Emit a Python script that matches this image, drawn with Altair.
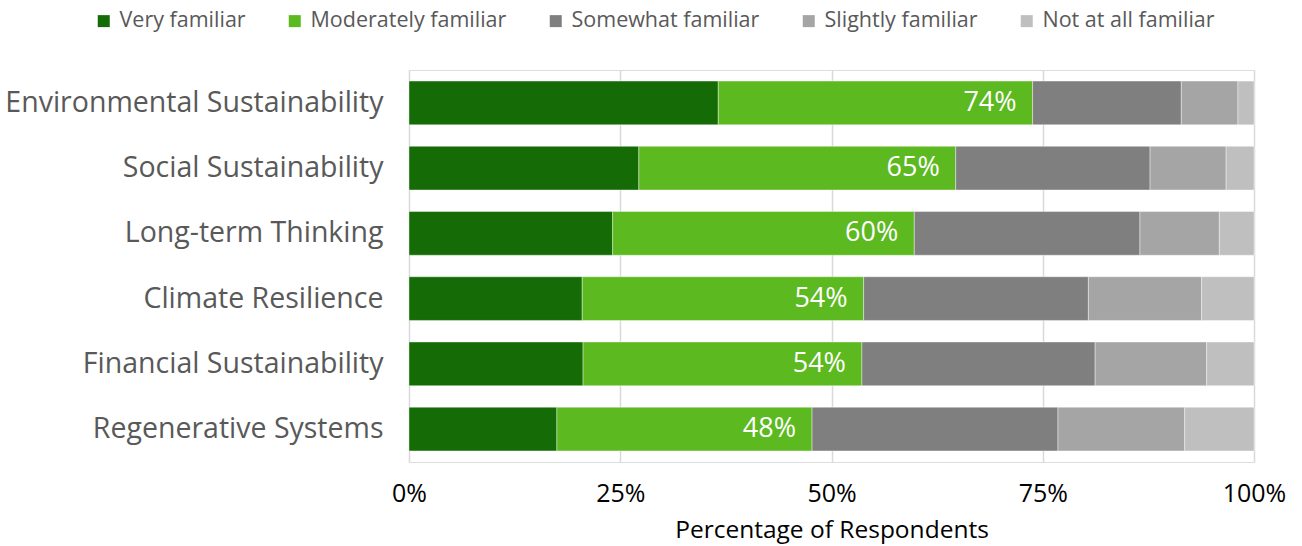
import altair as alt
import pandas as pd

categories = [
    "Environmental Sustainability",
    "Social Sustainability",
    "Long-term Thinking",
    "Climate Resilience",
    "Financial Sustainability",
    "Regenerative Systems",
]
levels = ["Very familiar", "Moderately familiar", "Somewhat familiar",
          "Slightly familiar", "Not at all familiar"]
very = [36.6, 27.2, 24.1, 20.5, 20.6, 17.5]
moderate = [37.2, 37.5, 35.7, 33.3, 33.0, 30.2]
somewhat = [17.6, 23.0, 26.7, 26.6, 27.6, 29.1]
slightly = [6.7, 9.0, 9.4, 13.4, 13.2, 15.0]
not_at_all = [1.9, 3.3, 4.1, 6.2, 5.6, 8.2]
colors = ["#156c06", "#5cb91f", "#7f7f7f", "#a5a5a5", "#bfbfbf"]

series = [very, moderate, somewhat, slightly, not_at_all]
rows = []
for i, c in enumerate(categories):
    for j, lvl in enumerate(levels):
        rows.append({"category": c, "level": lvl, "value": series[j][i], "order": j})
df = pd.DataFrame(rows)
lab = pd.DataFrame({"category": categories, "very": very, "moderate": moderate})

FONT = "Open Sans"

y_enc = alt.Y(
    "category:N", sort=categories, title=None,
    scale=alt.Scale(paddingInner=0.33, paddingOuter=0.17),
    axis=alt.Axis(labelFontSize=28.5, labelColor="#595959", labelPadding=26,
                  ticks=False, domain=False, labelFont=FONT, labelLimit=500),
)

bars = alt.Chart(df).mark_bar(stroke="white", strokeWidth=0.4).encode(
    x=alt.X(
        "value:Q", stack="zero", scale=alt.Scale(domain=[0, 100], nice=False),
        axis=alt.Axis(values=[0, 25, 50, 75, 100], labelExpr="datum.value + '%'",
                      labelFlush=False,
                      title="Percentage of Respondents", grid=True,
                      gridColor="#d9d9d9", gridWidth=1.5, domain=False, ticks=False,
                      labelFontSize=25, labelColor="black", labelFont=FONT,
                      titleFontSize=24.5, titleFontWeight="normal", titleColor="black",
                      titleFont=FONT, labelPadding=19, titlePadding=12),
    ),
    y=y_enc,
    color=alt.Color(
        "level:N", scale=alt.Scale(domain=levels, range=colors),
        legend=alt.Legend(
            title=None, orient="none", direction="horizontal",
            legendX=-316, legendY=-60, symbolType="square", symbolSize=144,
            symbolStrokeWidth=0, labelFontSize=21.5, labelColor="#595959",
            labelFont=FONT, columnPadding=38, labelOffset=5, labelLimit=400,
        ),
    ),
    order=alt.Order("order:Q"),
)

text = alt.Chart(lab).transform_calculate(
    top="datum.very + datum.moderate",
    label="format(round(datum.very + datum.moderate), 'd') + '%'",
).mark_text(align="right", dx=-16, color="white", fontSize=27, font=FONT).encode(
    x=alt.X("top:Q"),
    y=alt.Y("category:N", sort=categories),
    text="label:N",
)

chart = alt.layer(bars, text).properties(
    width=845, height=392,
    autosize=alt.AutoSizeParams(type="none"),
    padding={"left": 409, "top": 70, "right": 48, "bottom": 84},
).configure_view(stroke=None).configure(font=FONT)

chart.save("out.html", embed_options={"renderer": "svg", "actions": False})
